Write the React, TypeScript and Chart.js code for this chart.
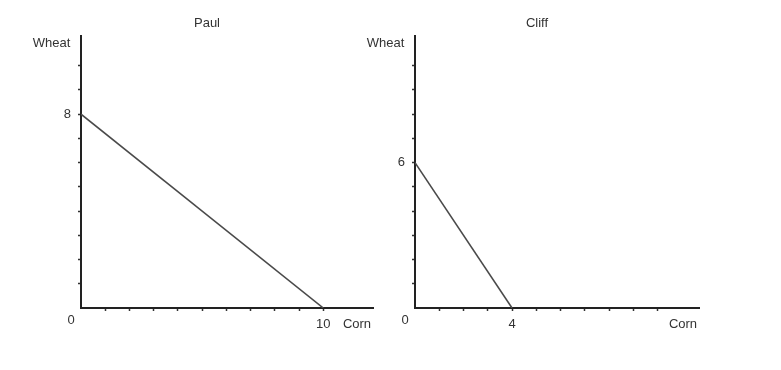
import React, { useEffect, useRef } from "react";
import { Chart, registerables } from "chart.js";

Chart.register(...registerables);

// ---- data ----
const paulCorn = [0, 10];
const paulWheat = [8, 0];
const cliffCorn = [0, 4];
const cliffWheat = [6, 0];

const tickValues = [1, 2, 3, 4, 5, 6, 7, 8, 9, 10];
const paulCornLabels = [10];
const paulWheatLabels = [8];
const cliffCornLabels = [4];
const cliffWheatLabels = [6];

const FONT = "'Liberation Sans', Arial, sans-serif";
const TEXT = "#333333";

const axisLabels = {
  id: "axisLabels",
  afterDraw(chart: any) {
    const { ctx, chartArea } = chart;
    ctx.save();
    ctx.font = `13px ${FONT}`;
    ctx.fillStyle = TEXT;
    ctx.textAlign = "center";
    ctx.textBaseline = "middle";
    ctx.fillText("Wheat", chartArea.left - 29.5, chartArea.top + 7.5);
    ctx.fillText("Corn", chartArea.right - 16, chartArea.bottom + 16.5);
    ctx.fillText("0", chartArea.left - 10, chartArea.bottom + 12.5);
    ctx.restore();
  },
};

function makeConfig(
  title: string,
  corn: number[],
  wheat: number[],
  xMax: number,
  yMax: number,
  xLabels: number[],
  yLabels: number[],
  padLeft: number,
  padRight: number
): any {
  const ticksBuild = (scale: any) => {
    scale.ticks = tickValues.map((v) => ({ value: v }));
  };
  const grid = {
    drawOnChartArea: false,
    drawTicks: true,
    tickLength: 3,
    tickColor: "#333333",
    tickWidth: 1.5,
  };
  const border = { display: true, color: "#222222", width: 2 };
  return {
    type: "line",
    data: {
      datasets: [
        {
          data: corn.map((c, i) => ({ x: c, y: wheat[i] })),
          borderColor: "#4a4a4a",
          borderWidth: 1.6,
          pointRadius: 0,
          fill: false,
        },
      ],
    },
    options: {
      animation: false,
      responsive: false,
      maintainAspectRatio: false,
      events: [],
      layout: { padding: { top: 0, left: padLeft, right: padRight, bottom: 22 } },
      plugins: {
        legend: { display: false },
        tooltip: { enabled: false },
        title: {
          display: true,
          text: title,
          color: TEXT,
          font: { family: FONT, size: 13, weight: "normal" },
          padding: { top: 16, bottom: 4 },
        },
      },
      scales: {
        x: {
          type: "linear",
          min: 0,
          max: xMax,
          afterBuildTicks: ticksBuild,
          afterFit: (s: any) => {
            s.height = 40;
          },
          grid,
          border,
          ticks: {
            autoSkip: false,
            maxRotation: 0,
            padding: 6,
            color: TEXT,
            font: { family: FONT, size: 13 },
            callback: (v: any) => (xLabels.includes(v) ? String(v) : ""),
          },
        },
        y: {
          type: "linear",
          min: 0,
          max: yMax,
          afterBuildTicks: ticksBuild,
          afterFit: (s: any) => {
            s.width = 40;
          },
          grid,
          border,
          ticks: {
            autoSkip: false,
            padding: 7,
            color: TEXT,
            font: { family: FONT, size: 13 },
            callback: (v: any) => (yLabels.includes(v) ? String(v) : ""),
          },
        },
      },
    },
    plugins: [axisLabels],
  };
}

export default function App() {
  const leftRef = useRef<HTMLCanvasElement>(null);
  const rightRef = useRef<HTMLCanvasElement>(null);

  useEffect(() => {
    const c1 = new Chart(
      leftRef.current!,
      makeConfig("Paul", paulCorn, paulWheat, 12.05, 11.24, paulCornLabels, paulWheatLabels, 41, 47)
    );
    const c2 = new Chart(
      rightRef.current!,
      makeConfig("Cliff", cliffCorn, cliffWheat, 11.71, 11.24, cliffCornLabels, cliffWheatLabels, 13, 83)
    );
    return () => {
      c1.destroy();
      c2.destroy();
    };
  }, []);

  return (
    <div
      style={{
        position: "fixed",
        left: 0,
        top: 0,
        width: 781,
        height: 370,
        overflow: "hidden",
        background: "#ffffff",
      }}
    >
      <canvas
        ref={leftRef}
        width={420}
        height={370}
        style={{ position: "absolute", left: 0, top: 0, width: 420, height: 370 }}
      />
      <canvas
        ref={rightRef}
        width={420}
        height={370}
        style={{ position: "absolute", left: 362, top: 0, width: 420, height: 370 }}
      />
    </div>
  );
}
